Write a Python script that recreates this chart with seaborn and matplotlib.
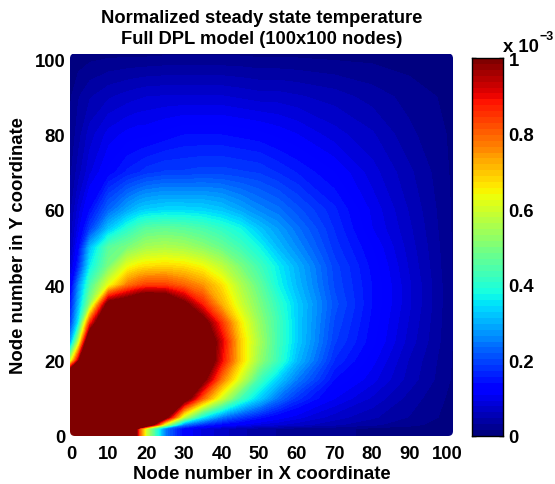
import numpy as np
import pandas as pd
import seaborn as sns
import matplotlib
matplotlib.use("Agg")
import matplotlib.pyplot as plt
from matplotlib.colors import ListedColormap
from matplotlib.patches import FancyBboxPatch

sns.set_theme(style="white")
plt.rcParams['font.family'] = ['Liberation Sans', 'DejaVu Sans']
plt.rcParams['font.weight'] = 'bold'

x_nodes = [0, 2, 5, 10, 15, 18, 20, 25, 30, 35, 40, 45, 50, 55, 60, 70, 80, 90, 101.5]
y_nodes = [0, 2, 3, 5, 10, 15, 20, 25, 30, 35, 40, 45, 50, 55, 60, 70, 80, 90, 101.5]

# Normalized temperature (x 10^-3); values above 1 saturate the colour scale
row_y0   = [2, 2, 2, 2, 1.6, .85, .6, .25, .125, .09, .07, .05, .04, .03, .025, .02, .012, .008, .004]
row_y2   = [2, 2, 2, 2, 1.6, .85, .6, .25, .125, .09, .07, .05, .04, .03, .025, .02, .012, .008, .004]
row_y3   = [2, 2, 2, 2, 2, 2, 1.2, .6, .25, .17, .13, .11, .09, .08, .07, .05, .035, .02, .006]
row_y5   = [2, 2, 2, 2, 2, 2, 2, 1.05, .58, .36, .25, .19, .15, .12, .1, .07, .05, .03, .008]
row_y10  = [2, 2, 2, 2, 2, 2, 2, 1.6, 1.08, .8, .6, .43, .33, .24, .18, .11, .075, .04, .01]
row_y15  = [1.5, 2, 2, 2, 2, 2, 2, 2, 1.5, 1.03, .78, .6, .43, .33, .25, .14, .1, .055, .013]
row_y20  = [.62, .95, 1.5, 2, 2, 2, 2, 2, 2, 1.15, .9, .69, .53, .42, .31, .17, .115, .06, .014]
row_y25  = [.3, .58, 1.2, 1.6, 2, 2, 2, 2, 2, 1.15, .92, .69, .55, .43, .33, .19, .13, .07, .015]
row_y30  = [.2, .36, .85, 1.3, 1.6, 1.6, 1.6, 1.6, 1.3, 1.05, .85, .66, .53, .43, .33, .2, .135, .075, .015]
row_y35  = [.16, .3, .52, 1.05, 1.1, 1.17, 1.2, 1.18, 1.02, .87, .72, .6, .5, .41, .33, .21, .14, .08, .015]
row_y40  = [.12, .26, .44, .63, .78, .82, .84, .84, .8, .75, .67, .56, .47, .375, .31, .2, .14, .08, .015]
row_y45  = [.08, .17, .36, .5, .63, .66, .67, .68, .67, .64, .58, .5, .43, .36, .3, .195, .135, .075, .014]
row_y50  = [.06, .13, .31, .46, .5, .53, .55, .56, .55, .52, .48, .43, .375, .31, .265, .18, .125, .07, .014]
row_y55  = [.055, .1, .19, .32, .4, .44, .46, .47, .46, .44, .41, .375, .32, .28, .24, .17, .11, .065, .013]
row_y60  = [.045, .085, .14, .23, .29, .32, .33, .34, .34, .335, .32, .29, .26, .24, .21, .16, .105, .06, .013]
row_y70  = [.03, .055, .09, .13, .16, .17, .18, .19, .19, .195, .195, .19, .185, .17, .155, .125, .085, .05, .012]
row_y80  = [.02, .04, .07, .1, .115, .12, .12, .13, .14, .14, .14, .135, .13, .12, .11, .085, .065, .035, .012]
row_y90  = [.015, .03, .045, .06, .07, .075, .078, .08, .08, .08, .08, .075, .07, .07, .065, .055, .04, .025, .01]
row_y100 = [.005, .005, .008, .01, .01, .01, .01, .012, .012, .012, .012, .012, .01, .01, .01, .008, .008, .005, .005]

field_rows = [row_y0, row_y2, row_y3, row_y5, row_y10, row_y15, row_y20, row_y25, row_y30,
              row_y35, row_y40, row_y45, row_y50, row_y55, row_y60, row_y70, row_y80, row_y90, row_y100]

axis_ticks = [0, 10, 20, 30, 40, 50, 60, 70, 80, 90, 100]
y_ticks = [0, 20, 40, 60, 80, 100]
cbar_ticks = [0, 0.2, 0.4, 0.6, 0.8, 1]
cbar_ticklabels = ['0', '0.2', '0.4', '0.6', '0.8', '1']

title = "Normalized steady state temperature\nFull DPL model (100x100 nodes)"
xlabel = "Node number in X coordinate"
ylabel = "Node number in Y coordinate"

field = pd.DataFrame(field_rows, index=y_nodes, columns=x_nodes)

W, H = 555, 485
fig = plt.figure(figsize=(W / 100, H / 100), dpi=100, facecolor='white')
ax = fig.add_axes([70 / W, 1 - 437 / H, 383 / W, 382.5 / H])
cax = fig.add_axes([472 / W, 1 - 437 / H, 31 / W, 378 / H])

n_levels = 64
jet = ListedColormap(plt.get_cmap('jet')(np.linspace(0, 1, n_levels)))
jet.set_over(jet(n_levels - 1))
levels = np.linspace(0, 1, n_levels + 1)

cs = ax.contourf(field.columns, field.index, field.values, levels=levels,
                 cmap=jet, vmin=0, vmax=1, extend='max', antialiased=False)
ax.set_xlim(-0.26, 101.5)
ax.set_ylim(0, 101.5)
clip = FancyBboxPatch((-0.26, 0), 101.76, 101.5, boxstyle="round,pad=0,rounding_size=1.3",
                      transform=ax.transData, facecolor='none', edgecolor='none')
ax.add_patch(clip)
cs.set_clip_path(clip)
ax.set_xticks(axis_ticks)
ax.set_yticks(y_ticks)
ax.tick_params(axis='x', labelsize=13.3, length=0, pad=6.5, colors='black')
ax.tick_params(axis='y', labelsize=13.3, length=0, pad=3.5, colors='black')
for s in ax.spines.values():
    s.set_visible(False)
ax.set_title(title, fontsize=13.2, fontweight='bold', color='black', pad=7.5, linespacing=1.3)
ax.set_xlabel(xlabel, fontsize=13.3, fontweight='bold', color='black', labelpad=2)
ax.set_ylabel(ylabel, fontsize=13.3, fontweight='bold', color='black', labelpad=5)

# Colour bar drawn as a one-column seaborn heatmap of the colour steps
steps = pd.DataFrame((levels[:-1] + levels[1:])[:, None] / 2)
sns.heatmap(steps, ax=cax, cmap=jet, vmin=0, vmax=1, cbar=False,
            xticklabels=False, yticklabels=False)
cax.set_ylim(0, n_levels)
cax.set_xlim(0, 1)
cax.yaxis.tick_right()
cax.set_yticks([t * n_levels for t in cbar_ticks])
cax.set_yticklabels(cbar_ticklabels, fontsize=13.3, fontweight='bold', color='black')
cax.tick_params(axis='y', which='both', left=True, right=True, direction='in', length=3,
                width=1, color='black', pad=4)
for s in cax.spines.values():
    s.set_visible(True)
    s.set_color('black')
    s.set_linewidth(1.0)
fig.text(503 / W, 1 - 47 / H, "x 10", fontsize=13.3, fontweight='bold', ha='left', va='center', color='black')
fig.text(539 / W, 1 - 37 / H, "\u22123", fontsize=9, fontweight='bold', ha='left', va='center', color='black')

fig.savefig("out.png", dpi=100)
